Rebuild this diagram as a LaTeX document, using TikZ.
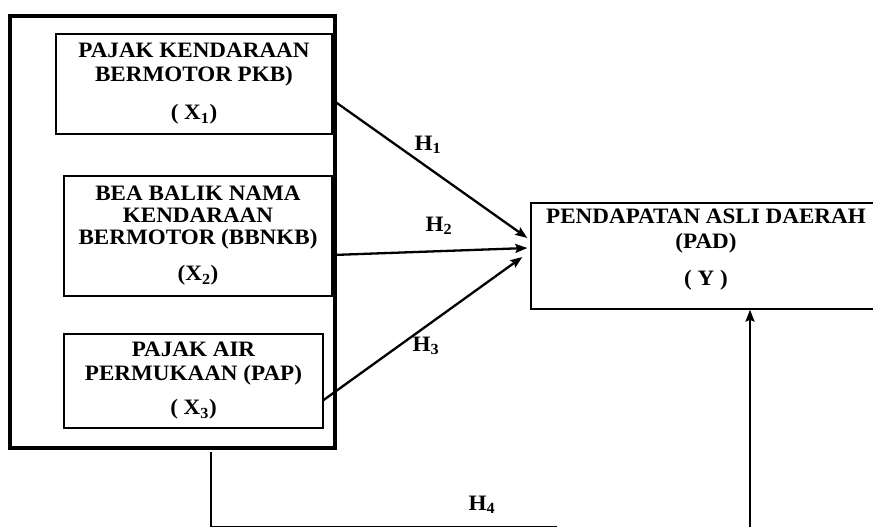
\documentclass[tikz,border=0pt]{standalone}
\usepackage{fontspec}
\setmainfont{Liberation Serif}[FakeStretch=1.05]
\usetikzlibrary{arrows.meta,calc}
\begin{document}
\begin{tikzpicture}[x=1pt,y=-1pt,
  box/.style={draw, line width=1.3pt, rectangle, inner sep=0pt, align=center,
    font=\bfseries\fontsize{22}{24}\selectfont},
  txt/.style={inner sep=0pt, align=center, font=\bfseries\fontsize{22}{25}\selectfont},
  outerbox/.style={draw, line width=4.5pt, inner sep=0pt},
  arr/.style={line width=2.3pt, -{Stealth[length=12pt,width=9pt,inset=2pt]}},
  lbl/.style={font=\bfseries\fontsize{22}{24}\selectfont, inner sep=0pt},
  link/.style={line width=2.3pt}]
\useasboundingbox (0,0) rectangle (873,527);

\node[outerbox, minimum width=325pt, minimum height=432pt] (outer) at (172.5,232) {};

\node[box, minimum width=276pt, minimum height=100pt] (pkb) at (194,84)
  {PAJAK KENDARAAN\\BERMOTOR PKB)\\[14pt]( X\textsubscript{1})};
\node[box, minimum width=268pt, minimum height=120pt,
  font=\bfseries\fontsize{22}{22}\selectfont] (bbnkb) at (198,236)
  {BEA BALIK NAMA\\KENDARAAN\\BERMOTOR (BBNKB)\\[14pt](X\textsubscript{2})};
\node[box, minimum width=259pt, minimum height=94pt] (pap) at (193.5,381)
  {PAJAK AIR\\PERMUKAAN (PAP)\\[10pt]( X\textsubscript{3})};

\node[box, minimum width=350pt, minimum height=106pt] (pad) at (706,256) {};
\node[txt] (padtext) at (706,250) {PENDAPATAN ASLI DAERAH\\(PAD)\\[12pt]( Y )};

\draw[arr] ([yshift=-16pt]pkb.east) -- ([xshift=-3pt,yshift=18pt]pad.west);
\draw[arr] ([yshift=-19pt]bbnkb.east) -- ([xshift=-3pt,yshift=8pt]pad.west);
\draw[arr] ([yshift=-19pt]pap.east) -- ([xshift=-8pt,yshift=-1pt]pad.west);

\node[lbl] (h1) at (428,145) {H\textsubscript{1}};
\node[lbl] (h2) at (439,226) {H\textsubscript{2}};
\node[lbl] (h3) at (426,346) {H\textsubscript{3}};
\node[lbl] (h4) at (482,505) {H\textsubscript{4}};

\coordinate (p1) at (211,452);
\coordinate (p2) at (211,526.8);
\coordinate (p3) at (557,526.8);
\draw[link] (p1) -- (p2) -- (p3);

\coordinate (p4) at (750,532);
\draw[arr] (p4) -- (pad.south -| p4);
\end{tikzpicture}
\end{document}
